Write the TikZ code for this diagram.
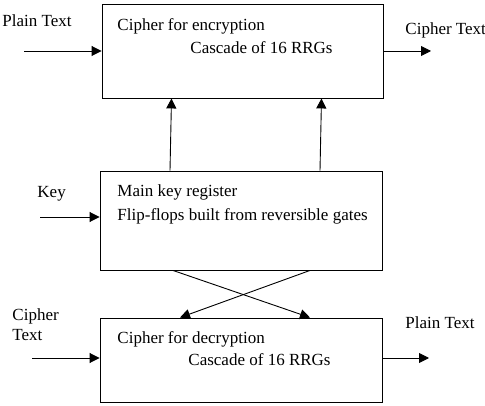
\documentclass[tikz,border=0pt]{standalone}
\usepackage{fontspec}
\setmainfont{Liberation Serif}
\usepackage{tikz}
\usetikzlibrary{positioning,arrows.meta}

\begin{document}
\begin{tikzpicture}[x=1pt,y=-1pt,line width=0.9pt,
  blk/.style={draw=black,rectangle,inner sep=0pt},
  lbl/.style={anchor=base west,inner sep=0pt,font=\fontsize{17}{21}\selectfont},
  arr/.style={-{Triangle[length=10pt,width=10pt]}}]
\useasboundingbox (0,0) rectangle (485,406);
% boxes
\node [blk,minimum width=281pt,minimum height=94pt] (enc) at (242.5,51) {};
\node [blk,minimum width=282pt,minimum height=99pt] (key) at (241,220.5) {};
\node [blk,minimum width=282pt,minimum height=84pt] (dec) at (241,360) {};
% texts in the boxes
\node [lbl] (enc1) at (117,31) {Cipher for encryption};
\node [lbl] (enc2) at (190,54) {Cascade of 16 RRGs};
\node [lbl] (key1) at (117,197) {Main key register};
\node [lbl] (key2) at (117,221) {Flip-flops built from reversible gates};
\node [lbl] (dec1) at (117,343) {Cipher for decryption};
\node [lbl] (dec2) at (188,366) {Cascade of 16 RRGs};
% outside labels
\node [lbl] (ptin) at (2,27) {Plain Text};
\node [lbl] (ctout) at (405,35) {Cipher Text};
\node [lbl] (keyin) at (37,198) {Key};
\node [lbl] (ctin1) at (12,320) {Cipher};
\node [lbl] (ctin2) at (12,341) {Text};
\node [lbl] (ptout) at (405,328) {Plain Text};
% free ends
\coordinate (a) at (24,51);
\coordinate (b) at (431,51);
\coordinate (c) at (40,217);
\coordinate (d) at (32,358);
\coordinate (e) at (429,358);
% connectors
\draw [arr] (a) -- (enc.west);
\draw [arr] (enc.east) -- (b);
\draw [arr] (c) -- (c -| key.west);
\draw [arr] ([xshift=-71pt]key.north) -- ([xshift=-71pt]enc.south);
\draw [arr] ([xshift=79pt]key.north) -- ([xshift=79pt]enc.south);
\draw [arr] ([xshift=-68pt]key.south) -- ([xshift=69pt]dec.north);
\draw [arr] ([xshift=69pt]key.south) -- ([xshift=-61pt]dec.north);
\draw [arr] (d) -- (d -| dec.west);
\draw [arr] (d -| dec.east) -- (e);
\end{tikzpicture}
\end{document}
